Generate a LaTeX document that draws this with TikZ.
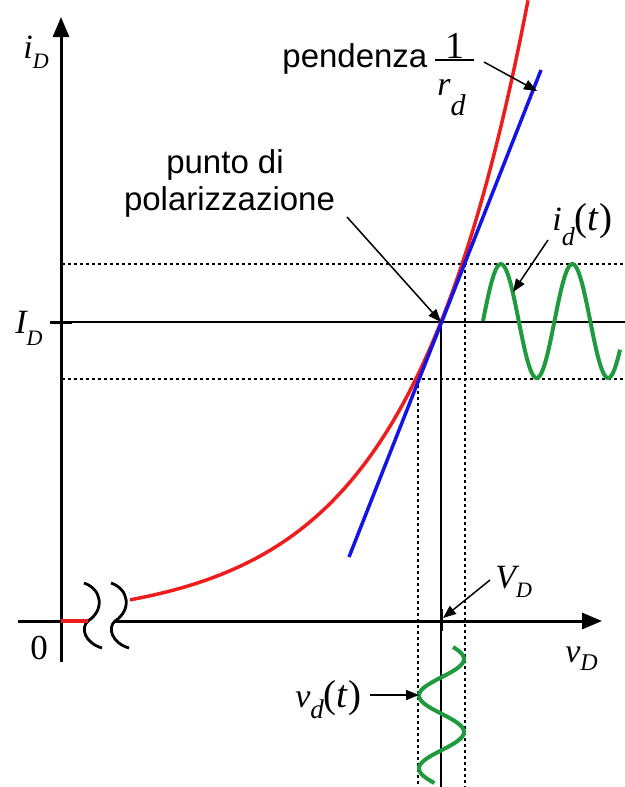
\documentclass[tikz,border=0pt]{standalone}
\usepackage{fontspec}
\setmainfont{Liberation Sans}
\newfontfamily\tms{Liberation Serif}
\usepackage{tikz}
\usetikzlibrary{arrows.meta}
\definecolor{Curve}{HTML}{EE1C1C}
\definecolor{Tangent}{HTML}{1414E6}
\definecolor{Signal}{HTML}{1F9A3E}
\newcommand{\vlab}[4][5pt]{{\tms\itshape #3\raisebox{-#1}{\fontsize{#2}{#2}\selectfont #4}}}
\newcommand{\targ}{{\fontsize{19.5}{20}\selectfont(\textit{t})}}

\begin{document}
\begin{tikzpicture}[
	x=0.5pt,
	y=-0.5pt,
	axis/.style={line width=1.5pt,-{Triangle[length=10pt,width=8pt]}},
	guide/.style={line width=1.2pt,dash pattern=on 1.3pt off 1.7pt},
	level/.style={line width=0.9pt},
	pointer/.style={line width=0.75pt,-{Triangle[length=6.5pt,width=5pt]}},
	brk/.style={line width=1.4pt},
	lbl/.style={inner sep=0pt,anchor=base west,font=\fontsize{16.5}{18.5}\selectfont},
	mlbl/.style={inner sep=0pt,anchor=base west,font=\fontsize{17}{18.5}\selectfont\tms}
	]
	
	\useasboundingbox (0,0) rectangle (625,787);
	
	% ---------------------------------------------------------
	% POINTS
	% ---------------------------------------------------------
	
	\coordinate (Q) at (441,322);
	\coordinate (pendtail) at (484,62);
	\coordinate (pendtip) at (537,91);
	\coordinate (polartail) at (347,217);
	\coordinate (idtail) at (548,240);
	\coordinate (idtip) at (513,292);
	\coordinate (vdtail) at (370,695);
	\coordinate (vdtip) at (419,695);
	\coordinate (VDtail) at (490,580);
	\coordinate (VDtip) at (443,618);
	
	% ---------------------------------------------------------
	% GUIDE LINES
	% ---------------------------------------------------------
	
	\draw[guide] (62,264) -- (625,264);
	\draw[guide] (62,379) -- (625,379);
	\draw[guide] (418,379) -- (418,787);
	\draw[guide] (465,264) -- (465,787);
	\draw[level] (50,322) -- (625,322);
	\draw[level] (Q) -- (441,787);
	\draw[line width=1.5pt] (50,322) -- (72,322);
	\draw[line width=1.5pt] (441,609) -- (441,631);
	
	% ---------------------------------------------------------
	% AXES
	% ---------------------------------------------------------
	
	\draw[axis] (61,662) -- (61,17);
	\draw[line width=1.5pt] (18,621) -- (88,621);
	\draw[axis] (115,621) -- (602,621);
	
	\draw[brk]
	(84,583) .. controls (102,589) and (105,610) .. (88,621)
	.. controls (80,628) and (85,643) .. (102,648);
	
	\draw[brk]
	(111,583) .. controls (129,589) and (132,610) .. (115,621)
	.. controls (107,628) and (112,643) .. (129,648);
	
	% ---------------------------------------------------------
	% CHARACTERISTIC AND TANGENT
	% ---------------------------------------------------------
	
	\draw[Curve,line width=1.75pt] (61,621) -- (88,621);
	
	\draw[Curve,line width=1.75pt]
	plot[domain=130:528,samples=90] (\x,{622-300*exp((\x-441)/119.4)});
	
	\draw[Tangent,line width=1.75pt] (349,557) -- (541,70);
	
	% ---------------------------------------------------------
	% SIGNALS
	% ---------------------------------------------------------
	
	\draw[Signal,line width=2pt]
	plot[domain=483:620,samples=100] (\x,{321-57*sin(5.035*(\x-483))});
	
	\draw[Signal,line width=2pt]
	plot[domain=647:783,samples=100] ({441.5+22.5*cos(4.932*(\x-659))},\x);
	
	% ---------------------------------------------------------
	% LABELS
	% ---------------------------------------------------------
	
	\node[mlbl] (iD) at (23,58) {\vlab{11}{i}{D}};
	\node[mlbl] (ID) at (15,333) {\vlab[6pt]{11}{I}{D}};
	\node[mlbl,font=\fontsize{17.5}{18}\selectfont\tms] (zero) at (30,659) {0};
	\node[mlbl] (VD) at (495,588) {\vlab[4.5pt]{11}{V}{D}};
	\node[mlbl] (vD) at (565,662) {\vlab[4pt]{12}{v}{D}};
	\node[mlbl] (idt) at (552,230) {\vlab[7.5pt]{13}{i}{d}\targ};
	\node[mlbl] (vdt) at (295,707) {\vlab[5.5pt]{13.5}{v}{d}\targ};
	
	\node[lbl] (pend) at (282,67) {pendenza};
	\node[mlbl,anchor=base,font=\fontsize{19}{19}\selectfont\tms] (one) at (455,58) {1};
	\node[mlbl] (rd) at (437,95) {\vlab[10pt]{15}{r}{d}};
	\draw[line width=1pt] (435,60) -- (474,60);
	
	\node[lbl,anchor=base] (punto) at (225,173) {punto di};
	\node[lbl,anchor=base] (polar) at (229.5,210) {polarizzazione};
	
	% ---------------------------------------------------------
	% POINTERS
	% ---------------------------------------------------------
	
	\draw[pointer] (pendtail) -- (pendtip);
	\draw[pointer] (polartail) -- (Q);
	\draw[pointer] (idtail) -- (idtip);
	\draw[pointer] (VDtail) -- (VDtip);
	\draw[pointer] (vdtail) -- (vdtip);
	
\end{tikzpicture}
\end{document}
